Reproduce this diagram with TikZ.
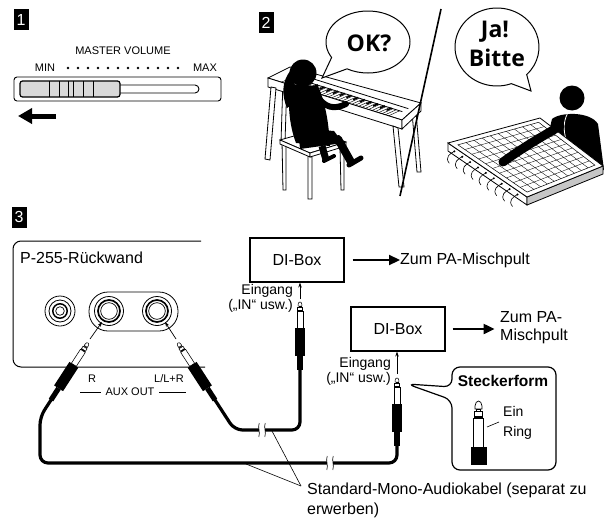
\documentclass[tikz,border=0pt]{standalone}
\usepackage{fontspec}
\setmainfont{Liberation Sans}
\newfontfamily\bubblefont{Open Sans}
\usetikzlibrary{arrows.meta,calc}
\begin{document}
\begin{tikzpicture}[x=1pt,y=-1pt,
  numbox/.style={fill=black,text=white,inner sep=0pt,minimum width=15pt,minimum height=21pt,font=\fontsize{16}{16}\selectfont},
  lbl/.style={inner sep=0pt,font=\fontsize{16}{18}\selectfont},
  mid/.style={inner sep=0pt,font=\fontsize{14}{16}\selectfont},
  small/.style={inner sep=0pt,font=\fontsize{11}{12}\selectfont},
  boldlbl/.style={inner sep=0pt,font=\fontsize{15.5}{18}\selectfont\bfseries},
  bubbletext/.style={inner sep=0pt,align=center,font=\bubblefont\fontsize{23}{22}\selectfont\bfseries},
  dibox/.style={draw,line width=1.1pt,minimum width=94pt,minimum height=44pt,inner sep=0pt,font=\fontsize{16}{18}\selectfont},
  cable/.style={line width=3.2pt,line cap=round,line join=round,rounded corners=8pt},
  bigarrow/.style={line width=2.2pt,-{Triangle[length=11pt,width=10pt]}},
  thinarrow/.style={line width=0.7pt,-{Stealth[length=5pt,width=3.5pt]}},
  leader/.style={line width=0.6pt},
  outline/.style={line width=0.8pt},
  plug/.pic={
    \filldraw[fill=white,line width=0.55pt]
      (-1.8,4.2) -- (-1.8,2.2) .. controls (-1.8,0.6) and (-0.8,0) .. (0,0)
      .. controls (0.8,0) and (1.8,0.6) .. (1.8,2.2) -- (1.8,4.2) -- cycle;
    \filldraw[fill=white,line width=0.55pt] (-1.1,4.2) rectangle (1.1,5.4);
    \filldraw[fill=white,line width=0.55pt] (-2.4,5.4) rectangle (2.4,8.2);
    \fill (-2.4,8.2) rectangle (2.4,9.4);
    \filldraw[fill=white,line width=0.55pt] (-2.9,9.4) rectangle (2.9,26);
    \fill (-5.3,26) rectangle (5.3,54);
    \fill (-2.6,54) rectangle (2.6,68);
    \coordinate (-end) at (0,67);
  },
  cablebreak/.pic={
    \fill[white] (-3,-7) rectangle (3,7);
    \draw[line width=0.6pt] (-3.2,7) .. controls (-1.5,2) and (-4.5,-2) .. (-2.8,-7);
    \draw[line width=0.6pt] (2.8,7) .. controls (4.5,2) and (1.5,-2) .. (3.2,-7);
  }
]
\useasboundingbox (0,0) rectangle (604,519);

% ---------------- Step 1: master volume ----------------
\node[numbox] (n1) at (21,20) {1};
\node[small] (mv) at (123,51) {MASTER VOLUME};
\node[small] (min) at (45,68) {MIN};
\node[small] (max) at (205,68) {MAX};
\foreach \i in {0,...,11} \fill (68+\i*10,68) circle (1.3);
\draw[line width=0.9pt,rounded corners=3pt] (14,77) rectangle (221,101);
\draw[line width=0.9pt,rounded corners=4pt] (120,85) -- (199,85) -- (199,93) -- (120,93);
\filldraw[fill=gray!30,line width=1.2pt,rounded corners=2.5pt] (20,81) rectangle (120,97);
\foreach \x in {49,59,68,73,83,93} \draw[line width=0.8pt] (\x,81) -- (\x,97);
\coordinate (arrS) at (56,116);
\coordinate (arrE) at (18,116);
\draw[line width=5pt,-{Triangle[length=14pt,width=15pt]}] (arrS) -- (arrE);

% ---------------- Step 2: ask before playing ----------------
\node[numbox] (n2) at (266,23) {2};

% piano: rear legs
\begin{scope}[outline]
  \filldraw[fill=white] (283,80) -- (287,80) -- (285,142) -- (281,142) -- cycle;
  \filldraw[fill=white] (412,112) -- (416,112) -- (421,172) -- (417,172) -- cycle;
  % top, front and end faces
  \coordinate (F1) at (268,78);
  \coordinate (B1) at (290,67);
  \coordinate (B2) at (421,103);
  \coordinate (F2) at (402,120);
  \filldraw[fill=white] (F1) -- (B1) -- (B2) -- (F2) -- cycle;
  \filldraw[fill=white] (F1) -- (F2) -- (402,129) -- (268,87) -- cycle;
  \filldraw[fill=white] (F2) -- (B2) -- (421,111) -- (402,129) -- cycle;
  \draw ($(F1)!0.1!(F2)+(11,-5)$) -- ($(F1)!0.92!(F2)+(11,-5)$);
  \draw ($(F1)!0.1!(F2)+(17,-8)$) -- ($(F1)!0.92!(F2)+(17,-8)$);
  \foreach \t in {0.10,0.125,...,0.92}
    \draw[line width=0.45pt] ($(F1)!\t!(F2)$) -- ++(11,-5);
  \foreach \t in {0.14,0.19,...,0.88}
    \draw[line width=1.6pt] ($(F1)!\t!(F2)+(6,-3)$) -- ++(5,-2.3);
  % front legs
  \filldraw[fill=white] (271,87) -- (276,88) -- (270,160) -- (265,159) -- cycle;
  \filldraw[fill=white] (393,126) -- (398,128) -- (404,187) -- (399,187) -- cycle;
  % stool
  \filldraw[fill=white] (282,142) -- (283,190) -- (286,190) -- (286,146) -- cycle;
  \filldraw[fill=white] (340,147) -- (341,190) -- (344,190) -- (344,146) -- cycle;
  \filldraw[fill=white] (308,156) -- (308,199) -- (312,199) -- (312,157) -- cycle;
  \filldraw[fill=white] (280,140) -- (315,130) -- (346,142) -- (310,153) -- cycle;
  \filldraw[fill=white] (280,140) -- (310,153) -- (310,157) -- (280,144) -- cycle;
  \filldraw[fill=white] (310,153) -- (346,142) -- (346,146) -- (310,157) -- cycle;
\end{scope}
% player silhouette
\fill (303,73) circle (13.5);
\fill (291,70) .. controls (281,82) and (282,96) .. (287,108) -- (293,104) -- (295,80) -- cycle;
\fill (291,84) .. controls (287,100) and (289,125) .. (296,143) -- (330,146)
      .. controls (329,126) and (326,104) .. (318,86) -- cycle;
\draw[line width=6pt,line cap=round] (316,94) .. controls (324,108) and (334,110) .. (346,104);
\fill (298,128) -- (334,131) -- (343,143) -- (300,149) -- cycle;
\draw[line width=8pt,line cap=round] (338,139) -- (351,162);
\draw[line width=5pt,line cap=round] (349,165) -- (361,158);
\draw[line width=7pt] (322,146) -- (326,160);
\draw[line width=4pt,line cap=round] (324,161) -- (334,156);

% speech bubble "OK?"
\coordinate (okc) at (368,42);
\coordinate (oktip) at (322,78);
\filldraw[fill=white,line width=1pt]
  ($(okc)+(150:42 and 31)$) arc[start angle=150,end angle=480,x radius=42,y radius=31]
  -- (oktip) -- cycle;
\node[bubbletext] (ok) at (369,43) {OK?};

% divider
\coordinate (divT) at (441,9);
\coordinate (divB) at (400,196);
\draw[line width=1.6pt] (divT) -- (divB);

% speech bubble "Ja! Bitte"
\coordinate (jac) at (497,47);
\coordinate (jatip) at (531,91);
\filldraw[fill=white,line width=1pt]
  ($(jac)+(70:42 and 39)$) arc[start angle=70,end angle=405,x radius=42,y radius=39]
  -- (jatip) -- cycle;
\node[bubbletext] (ja) at (495,32) {Ja!};
\node[bubbletext] (bitte) at (497,58) {Bitte};

% listener behind the pad controller
\fill (572,98) circle (12.5);
\fill (552,119) .. controls (560,112) and (590,111) .. (598,124) -- (604,170) -- (550,170) -- (548,136) -- cycle;
\draw[white,line width=0.8pt] (569,111) .. controls (559,126) and (566,146) .. (577,160);
\coordinate (GA) at (448,143);
\coordinate (GB) at (540,118);
\coordinate (GC) at (603,166);
\coordinate (GD) at (527,197);
\filldraw[fill=white,outline] (GA) -- (GD) -- ($(GD)+(0,8)$) -- ($(GA)+(0,8)$) -- cycle;
\filldraw[fill=gray!45,outline] (GD) -- (GC) -- ($(GC)+(0,8)$) -- ($(GD)+(0,8)$) -- cycle;
\filldraw[fill=white,outline] (GA) -- (GB) -- (GC) -- (GD) -- cycle;
\draw[line width=0.5pt] ($(GA)!0.06!(GB)!0.06!(GD)$) coordinate (ga)
  -- ($(GB)!0.06!(GA)!0.06!(GC)$) coordinate (gb)
  -- ($(GC)!0.06!(GB)!0.06!(GD)$) coordinate (gc)
  -- ($(GD)!0.06!(GA)!0.06!(GC)$) coordinate (gd) -- cycle;
\foreach \t in {0.1,0.2,...,0.95}
  \draw[line width=0.35pt] ($(ga)!\t!(gb)$) -- ($(gd)!\t!(gc)$);
\foreach \t in {0.1,0.2,...,0.95}
  \draw[line width=0.35pt] ($(ga)!\t!(gd)$) -- ($(gb)!\t!(gc)$);
\foreach \t in {0.08,0.18,...,0.95} {
  \fill ($(GA)!\t!(GD)+(0,4)$) circle (1.1);
  \draw[line width=0.6pt] ($(GA)!\t!(GD)+(0,4)$) .. controls +(-4,2) and +(-5,-6) .. +(-5,12);
}
\draw[line width=9pt,line cap=round] (560,126) .. controls (545,135) and (525,146) .. (503,162);

% ---------------- Step 3: AUX OUT to DI boxes ----------------
\node[numbox] (n3) at (19,217) {3};
\draw[line width=1pt,rounded corners=8pt] (201,241) -- (13,241) -- (13,367) -- (205,367);
\node[lbl,anchor=west] (rw) at (20,258) {P-255-Rückwand};

% jacks
\coordinate (j1) at (60,311);
\coordinate (j2) at (109,311);
\coordinate (j3) at (157,311);
\draw[line width=0.8pt] (j1) circle (15) (j1) circle (11);
\draw[line width=1.5pt] (j1) circle (7.2);
\draw[line width=0.7pt] (j1) circle (4.3);
\draw[line width=0.8pt,rounded corners=19pt] (89,292) rectangle (178,331);
\foreach \j in {j2,j3} {
  \draw[line width=0.8pt] (\j) circle (14.5);
  \draw[line width=1.7pt] (\j) circle (11);
  \draw[line width=0.7pt] (\j) circle (8.3);
}

% plugs and cables
\pic[rotate=-33] (pL) at (88,343) {plug};
\pic[rotate=33] (pR) at (178,343) {plug};
\pic (pU) at (300,302) {plug};
\pic (pD) at (397,378) {plug};
\draw[thinarrow] (90,339) -- (102,322);
\draw[thinarrow] (176,339) -- (165,322);
\draw[cable] (pR-end) -- (234.5,430) -- (300,430) -- (pU-end);
\draw[cable] (pL-end) -- (40,417) -- (40,463) -- (397,463) -- (pD-end);
\pic at (262,430) {cablebreak};
\pic at (330,463) {cablebreak};

% AUX OUT labels
\node[small] (lR) at (92,379) {R};
\node[small] (lL) at (169,379) {L/L+R};
\node[small] (aux) at (130,392) {AUX OUT};
\draw[line width=0.9pt] (80,392) -- (101,392) (159,392) -- (186,392);

% DI boxes
\node[dibox] (di1) at (297,260) {DI-Box};
\node[lbl,anchor=west] (pa1) at (400,260) {Zum PA-Mischpult};
\draw[bigarrow] (di1.east) ++(8,0) -- (pa1.west);
\node[dibox] (di2) at (398,329) {DI-Box};
\node[lbl,anchor=west,align=left] (pa2) at (500,328) {Zum PA-\\Mischpult};
\draw[bigarrow] (di2.east) ++(7,0) -- ++(42,0);

\node[mid,anchor=east] (in1a) at (293,291) {Eingang};
\node[mid,anchor=east] (in1b) at (293,306) {(„IN“ usw.)};
\draw[thinarrow] (300,299) -- (di1.south -| 300,0);
\node[mid,anchor=east] (in2a) at (391,364) {Eingang};
\node[mid,anchor=east] (in2b) at (391,379) {(„IN“ usw.)};
\draw[thinarrow] (397,374) -- (di2.south -| 397,0);

% plug-type callout
\filldraw[fill=white,line width=1.2pt,rounded corners=8pt]
  (452,387) -- (452,367) -- (556,367) -- (556,470) -- (452,470) -- (452,400)
  -- (407,384) -- cycle;
\node[boldlbl] (st) at (503,381) {Steckerform};
\begin{scope}[line width=0.7pt]
  \filldraw[fill=white] (475,409) -- (475,406) .. controls (475,403) and (477,401) .. (478.5,401)
    .. controls (480,401) and (482,403) .. (482,406) -- (482,409) -- cycle;
  \filldraw[fill=white] (476.7,409) rectangle (480.3,411);
  \filldraw[fill=white] (474.3,411) rectangle (482.7,416);
  \fill (474.3,416) rectangle (482.7,418);
  \filldraw[fill=white] (473.5,418) rectangle (483.5,447);
  \fill (470.5,447) rectangle (486.5,465);
\end{scope}
\node[mid,anchor=west] (ein) at (503,411) {Ein};
\node[mid,anchor=west] (ring) at (503,433) {Ring};
\draw[leader] (487,427) -- (499,422);

% cable caption
\node[lbl,anchor=west] (cap1) at (307,490) {Standard-Mono-Audiokabel (separat zu};
\node[lbl,anchor=west] (cap2) at (307,510) {erwerben)};
\coordinate (capP) at (301,486);
\draw[leader] (capP) -- (272,431);
\draw[leader] (capP) -- (246,464);
\end{tikzpicture}
\end{document}
